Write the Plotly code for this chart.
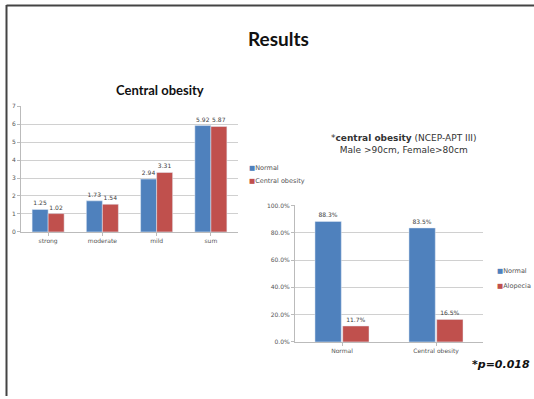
import plotly.graph_objects as go

# Central obesity by severity
severity = ["strong", "moderate", "mild", "sum"]
normal_vals = [1.25, 1.73, 2.94, 5.92]
obesity_vals = [1.02, 1.54, 3.31, 5.87]

# Alopecia share by group (%)
groups = ["Normal", "Central obesity"]
normal_pct = [88.3, 83.5]
alopecia_pct = [11.7, 16.5]

BLUE = "#4F81BD"
RED = "#C0504D"
W, H = 534, 399


def px(x):
    return x / W


def py(y):
    return 1 - y / H


fig = go.Figure()

label_font = dict(size=6, color="#404040", family="DejaVu Sans")

fig.add_trace(go.Bar(
    x=severity, y=normal_vals, name="Normal", marker_color=BLUE,
    text=[f"{v:.2f}" for v in normal_vals], textposition="outside",
    textfont=label_font, cliponaxis=False, xaxis="x", yaxis="y",
))
fig.add_trace(go.Bar(
    x=severity, y=obesity_vals, name="Central obesity", marker_color=RED,
    text=[f"{v:.2f}" for v in obesity_vals], textposition="outside",
    textfont=label_font, cliponaxis=False, xaxis="x", yaxis="y",
))

fig.add_trace(go.Bar(
    x=groups, y=normal_pct, name="Normal", marker_color=BLUE,
    text=[f"{v:.1f}%" for v in normal_pct], textposition="outside",
    textfont=label_font, cliponaxis=False, xaxis="x2", yaxis="y2",
    offsetgroup="a", width=0.28,
))
fig.add_trace(go.Bar(
    x=groups, y=alopecia_pct, name="Alopecia", marker_color=RED,
    text=[f"{v:.1f}%" for v in alopecia_pct], textposition="outside",
    textfont=label_font, cliponaxis=False, xaxis="x2", yaxis="y2",
    offsetgroup="b", width=0.28,
))

tickfont = dict(size=6, color="#555555", family="DejaVu Sans")
axis_common = dict(showline=True, linecolor="#BBBBBB", linewidth=1,
                   ticks="outside", ticklen=3, tickcolor="#BBBBBB",
                   tickfont=tickfont, fixedrange=True)

fig.update_layout(
    width=W, height=H,
    margin=dict(l=0, r=0, t=0, b=0),
    paper_bgcolor="white", plot_bgcolor="white",
    barmode="group", bargap=0.41, bargroupgap=0,
    showlegend=False,
    font=dict(family="DejaVu Sans", color="#333333"),
    xaxis=dict(domain=[px(21), px(238)], anchor="y", showgrid=False,
               **axis_common),
    yaxis=dict(domain=[py(232), py(104)], anchor="x", range=[0, 7], dtick=1,
               showgrid=True, gridcolor="#D0D0D0", zeroline=False,
               **axis_common),
    xaxis2=dict(domain=[px(295), px(483)], anchor="y2", showgrid=False,
                **axis_common),
    yaxis2=dict(domain=[py(344), py(205)], anchor="x2", range=[0, 100],
                dtick=20, tickformat=".1f", ticksuffix="%",
                showgrid=True, gridcolor="#D0D0D0", zeroline=False,
                **axis_common),
)


def key(name, color):
    return f"<span style='color:{color}'>■</span>{name}"


annotations = [
    dict(text="<b>Results</b>", x=px(278), y=py(35),
         font=dict(size=19, color="#111111", family="Lato")),
    dict(text="<b>Central obesity</b>", x=px(160), y=py(88),
         font=dict(size=13, color="#111111", family="Lato")),
    dict(text="*<b>central obesity</b> (NCEP-APT III)<br>Male >90cm, Female>80cm",
         x=px(404), y=py(143), font=dict(size=9, color="#333333")),
    dict(text="<b><i>*p=0.018</i></b>", x=px(501), y=py(367),
         font=dict(size=11, color="#111111")),
    # series keys
    dict(text=key("Normal", BLUE), x=px(247), y=py(167), xanchor="left",
         font=dict(size=6.5, color="#555555")),
    dict(text=key("Central obesity", RED), x=px(247), y=py(180), xanchor="left",
         font=dict(size=6.5, color="#555555")),
    dict(text=key("Normal", BLUE), x=px(495), y=py(272), xanchor="left",
         font=dict(size=6.5, color="#555555")),
    dict(text=key("Alopecia", RED), x=px(495), y=py(287), xanchor="left",
         font=dict(size=6.5, color="#555555")),
]
for a in annotations:
    a.setdefault("xanchor", "center")
    a.update(xref="paper", yref="paper", showarrow=False, yanchor="middle")
fig.update_layout(annotations=annotations)

# Slide frame: left and top border lines
fig.update_layout(shapes=[
    dict(type="line", xref="paper", yref="paper", x0=px(6.5), x1=px(6.5), y0=0, y1=py(1),
         line=dict(color="#444444", width=2)),
    dict(type="line", xref="paper", yref="paper", x0=px(6.5), x1=1, y0=py(1.5), y1=py(1.5),
         line=dict(color="#444444", width=2)),
])

fig.write_html("out.html")
